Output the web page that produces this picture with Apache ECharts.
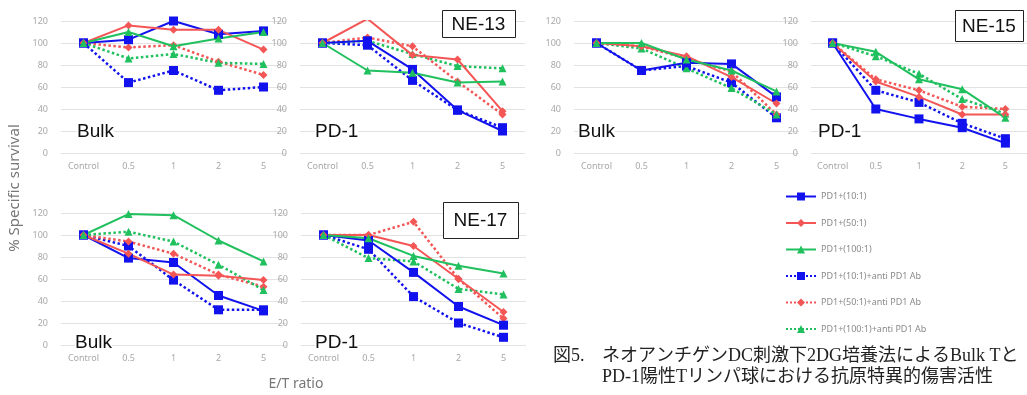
<!DOCTYPE html>
<html>
<head>
<meta charset="utf-8">
<script src="https://cdn.jsdelivr.net/npm/echarts@6/dist/echarts.min.js"></script>
<style>
  html, body { margin: 0; padding: 0; background: #fff; }
  #chart { width: 1027px; height: 395px; }
</style>
</head>
<body>
<div id="chart"></div>
<script>
const categories = ["Control", "0.5", "1", "2", "5"];
const seriesNames = [
  "PD1+(10:1)",
  "PD1+(50:1)",
  "PD1+(100:1)",
  "PD1+(10:1)+anti PD1 Ab",
  "PD1+(50:1)+anti PD1 Ab",
  "PD1+(100:1)+anti PD1 Ab",
];

// rows follow seriesNames order
const ne13Bulk = [
  [100, 103, 120, 108, 111],
  [100, 116, 112, 112, 94],
  [100, 110, 97, 104, 110],
  [100, 64, 75, 57, 60],
  [100, 96, 98, 83, 71],
  [100, 86, 90, 82, 81],
];
const ne13Pd1 = [
  [100, 102, 76, 39, 20],
  [100, 122, 89, 85, 38],
  [100, 75, 73, 64, 65],
  [100, 98, 66, 39, 23],
  [100, 105, 97, 65, 35],
  [100, 102, 90, 79, 77],
];
const ne15Bulk = [
  [100, 75, 82, 81, 51],
  [100, 97, 88, 69, 45],
  [100, 100, 85, 75, 56],
  [100, 75, 79, 64, 32],
  [100, 97, 86, 74, 35],
  [100, 95, 77, 59, 35],
];
const ne15Pd1 = [
  [100, 40, 31, 23, 9],
  [100, 65, 51, 35, 35],
  [100, 92, 67, 58, 32],
  [100, 57, 46, 27, 13],
  [100, 67, 57, 42, 40],
  [100, 88, 72, 49, 36],
];
const ne17Bulk = [
  [100, 79, 75, 45, 31],
  [100, 83, 64, 63, 59],
  [100, 119, 118, 95, 76],
  [100, 90, 59, 32, 32],
  [100, 94, 83, 64, 53],
  [100, 103, 94, 73, 50],
];
const ne17Pd1 = [
  [100, 95, 66, 35, 18],
  [100, 100, 90, 60, 30],
  [100, 97, 81, 72, 65],
  [100, 87, 44, 20, 7],
  [100, 100, 112, 60, 24],
  [100, 79, 76, 51, 46],
];

const panels = [
  { data: ne13Bulk, left: 61, top: 21, width: 225, label: "Bulk" },
  { data: ne13Pd1, left: 300, top: 21, width: 225, label: "PD-1" },
  { data: ne15Bulk, left: 574, top: 21, width: 225, label: "Bulk" },
  { data: ne15Pd1, left: 811, top: 21, width: 228, label: "PD-1" },
  { data: ne17Bulk, left: 61, top: 213, width: 225, label: "Bulk" },
  { data: ne17Pd1, left: 301, top: 213, width: 225, label: "PD-1" },
];

const colors = ["#1212ee", "#f45656", "#1fc05d"];
const symbols = ["rect", "diamond", "triangle"];
const symbolSizes = [9, 8, 8];

const axisFont = "Noto Sans";
const chart = echarts.init(document.getElementById("chart"));

const grid = [], xAxis = [], yAxis = [], series = [];
panels.forEach((p, k) => {
  grid.push({ left: p.left, top: p.top, width: p.width, height: 132 });
  xAxis.push({
    type: "category",
    gridIndex: k,
    data: categories,
    boundaryGap: true,
    axisLine: { show: false },
    axisTick: { show: false },
    axisLabel: { fontSize: 9, color: "#a8a8a8", margin: 9, fontFamily: axisFont },
  });
  yAxis.push({
    type: "value",
    gridIndex: k,
    min: 0,
    max: 120,
    interval: 20,
    axisLine: { show: false },
    axisTick: { show: false },
    axisLabel: { fontSize: 9, color: "#a8a8a8", margin: 13, fontFamily: axisFont },
    splitLine: { lineStyle: { color: "#e2e2e2", width: 1 } },
  });
  p.data.forEach((vals, i) => {
    const c = i % 3;
    const dotted = i >= 3;
    series.push({
      type: "line",
      name: seriesNames[i],
      xAxisIndex: k,
      yAxisIndex: k,
      data: vals,
      color: colors[c],
      symbol: symbols[c],
      symbolSize: symbolSizes[c],
      showAllSymbol: true,
      lineStyle: { width: dotted ? 2.5 : 2, type: dotted ? "dotted" : "solid" },
      z: dotted ? 2 : 3,
    });
  });
});

const graphics = [];
const labelPos = [
  [77, 133], [315, 133], [578, 133], [818, 133], [75, 344], [315, 344],
];
panels.forEach((p, k) => {
  graphics.push({
    type: "text",
    left: labelPos[k][0],
    top: labelPos[k][1] - 11,
    z: 20,
    style: {
      text: p.label,
      font: "19px 'Liberation Sans', Arial, sans-serif",
      fill: "#111",
      backgroundColor: "#fff",
    },
  });
});

const tags = [
  { text: "NE-13", x: 442, y: 10, w: 73, h: 27 },
  { text: "NE-15", x: 955, y: 10, w: 68, h: 31 },
  { text: "NE-17", x: 443, y: 202, w: 75, h: 36 },
];
tags.forEach((t) => {
  graphics.push({
    type: "rect",
    z: 20,
    shape: { x: t.x + 0.5, y: t.y + 0.5, width: t.w, height: t.h },
    style: { fill: "#fff", stroke: "#222", lineWidth: 1 },
  });
  graphics.push({
    type: "text",
    z: 21,
    style: {
      text: t.text,
      x: t.x + t.w / 2,
      y: t.y + t.h / 2 + 1,
      align: "center",
      verticalAlign: "middle",
      font: "19px 'Liberation Sans', Arial, sans-serif",
      fill: "#111",
    },
  });
});

graphics.push({
  type: "text",
  z: 20,
  x: 15,
  y: 188,
  rotation: Math.PI / 2,
  style: {
    text: "% Specific survival",
    align: "center",
    verticalAlign: "middle",
    font: "15px 'Noto Sans', sans-serif",
    fill: "#777",
  },
});
graphics.push({
  type: "text",
  z: 20,
  style: {
    text: "E/T ratio",
    x: 296,
    y: 384,
    align: "center",
    verticalAlign: "middle",
    font: "14px 'Noto Sans', sans-serif",
    fill: "#777",
  },
});

const captionFont = "18px 'Liberation Serif', 'Noto Sans CJK JP', serif";
graphics.push({
  type: "text", z: 20,
  style: { text: "図5.", x: 553, y: 356, verticalAlign: "middle", font: captionFont, fill: "#222" },
});
graphics.push({
  type: "text", z: 20,
  style: { text: "ネオアンチゲンDC刺激下2DG培養法によるBulk Tと", x: 602, y: 356, verticalAlign: "middle", font: captionFont, fill: "#222" },
});
graphics.push({
  type: "text", z: 20,
  style: { text: "PD-1陽性Tリンパ球における抗原特異的傷害活性", x: 602, y: 377, verticalAlign: "middle", font: captionFont, fill: "#222" },
});

chart.setOption({
  animation: false,
  grid,
  xAxis,
  yAxis,
  series,
  legend: {
    data: seriesNames,
    orient: "vertical",
    left: 780,
    top: 187,
    itemWidth: 30,
    itemHeight: 10,
    itemGap: 17.5,
    selectedMode: false,
    textStyle: { fontSize: 9, color: "#8a8a8a", fontFamily: axisFont },
  },
  graphic: graphics,
});
</script>
</body>
</html>
